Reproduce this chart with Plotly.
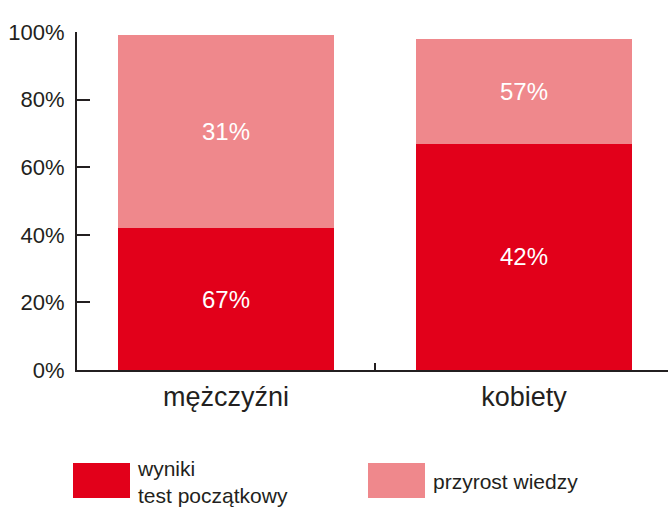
import plotly.graph_objects as go

# data
categories = ["mężczyźni", "kobiety"]
base_values = [42, 67]          # wyniki test początkowy (bar height, %)
gain_values = [57, 31]          # przyrost wiedzy (bar height, %)
base_labels = ["67%", "42%"]    # labels as printed on the chart
gain_labels = ["31%", "57%"]
y_ticks = [0, 20, 40, 60, 80, 100]
y_tick_text = ["0%", "20%", "40%", "60%", "80%", "100%"]

DARK = "#E2001A"
LIGHT = "#EF888C"
INK = "#231F20"
FONT = "Liberation Sans, Arial, sans-serif"

fig = go.Figure()
fig.add_bar(
    x=categories, y=base_values, name="wyniki test początkowy",
    marker=dict(color=DARK, line=dict(width=0)),
    text=base_labels, textposition="inside", insidetextanchor="middle",
    textangle=0, textfont=dict(color="white", size=24, family=FONT),
    hoverinfo="skip",
)
fig.add_bar(
    x=categories, y=gain_values, name="przyrost wiedzy",
    marker=dict(color=LIGHT, line=dict(width=0)),
    text=gain_labels, textposition="inside", insidetextanchor="middle",
    textangle=0, textfont=dict(color="white", size=24, family=FONT),
    hoverinfo="skip",
)

# plot area spans x 77..668 px, y 32..370 px
L, R, T, B = 77, 668, 32, 370
W, H = R - L, B - T


def px(x):
    return (x - L) / W


def py(y):
    return (B - y) / H


fig.update_layout(
    width=668, height=508,
    margin=dict(l=L, r=668 - R, t=T, b=508 - B),
    barmode="stack", bargap=0.275,
    showlegend=False,
    plot_bgcolor="white", paper_bgcolor="white",
    font=dict(family=FONT, color=INK),
    xaxis=dict(
        range=[-0.5, 1.5 - 5 / 298],
        showline=True, linecolor=INK, linewidth=2,
        ticks="inside", tickson="boundaries", ticklen=7, tickwidth=2, tickcolor=INK,
        tickfont=dict(size=27, color=INK), showgrid=False,
        ticklabelstandoff=2,
    ),
    yaxis=dict(
        range=[0, 100],
        tickvals=y_ticks, ticktext=y_tick_text,
        showline=True, linecolor=INK, linewidth=2,
        ticks="inside", ticklen=13, tickwidth=2, tickcolor=INK,
        tickfont=dict(size=22, color=INK), showgrid=False, zeroline=False,
        ticklabelstandoff=6,
    ),
)

# legend drawn by hand to get the large swatches
fig.add_shape(type="rect", xref="paper", yref="paper",
              x0=px(73), x1=px(130), y0=py(498), y1=py(463),
              fillcolor=DARK, line=dict(width=0))
fig.add_shape(type="rect", xref="paper", yref="paper",
              x0=px(368), x1=px(425), y0=py(498), y1=py(463),
              fillcolor=LIGHT, line=dict(width=0))
fig.add_annotation(xref="paper", yref="paper", x=px(135), y=py(482),
                   xanchor="left", yanchor="middle", align="left", showarrow=False,
                   text="wyniki<br>test początkowy", font=dict(size=21, color=INK))
fig.add_annotation(xref="paper", yref="paper", x=px(431), y=py(481),
                   xanchor="left", yanchor="middle", align="left", showarrow=False,
                   text="przyrost wiedzy", font=dict(size=21, color=INK))

# the page's default body margin would shift the figure by 8px
fig.write_html("out.html", config={"displayModeBar": False},
               post_script="document.body.style.margin='0';")
